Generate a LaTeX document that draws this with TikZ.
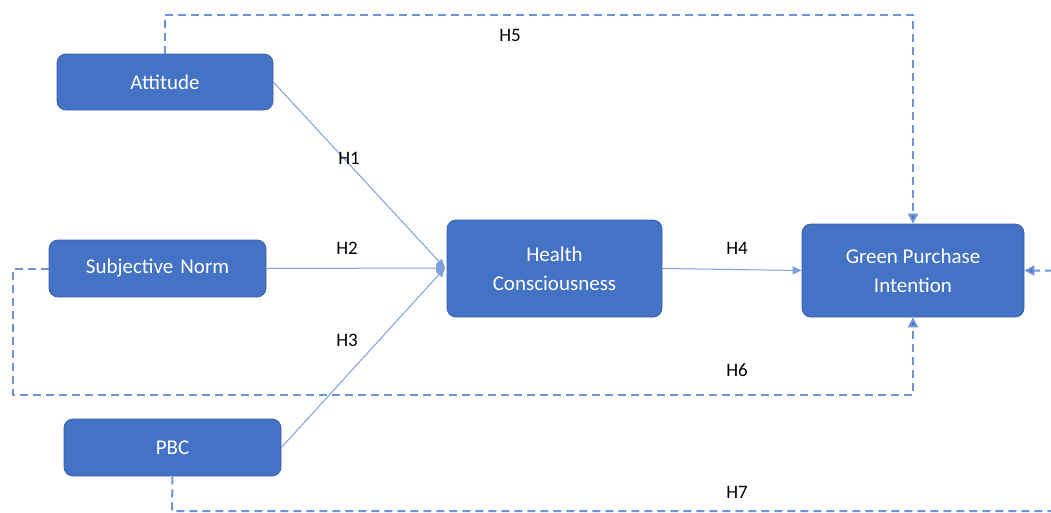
\documentclass[tikz,border=0pt]{standalone}
\usepackage{fontspec}
\setmainfont{Carlito}
\usetikzlibrary{arrows.meta}
\definecolor{boxfill}{HTML}{4472C4}
\definecolor{boxline}{HTML}{3A62AA}
\definecolor{solidline}{HTML}{7FA0DA}
\definecolor{dashline}{HTML}{6F93D6}
\begin{document}
\begin{tikzpicture}[x=1pt,y=-1pt,
  box/.style={draw=boxline, line width=0.8pt, fill=boxfill, rounded corners=9pt, text=white,
    font=\fontsize{21}{29}\selectfont, align=center, inner sep=0pt},
  link/.style={draw=solidline, line width=1pt, -{Triangle[length=9pt,width=8pt]}},
  dlink/.style={draw=dashline, line width=2pt, dash pattern=on 8pt off 5pt, -{Triangle[length=10pt,width=10pt,fill=boxfill]}},
  hl/.style={font=\fontsize{19}{22}\selectfont, text=black}]
\useasboundingbox (0,0) rectangle (1051,512);
\clip (0,0) rectangle (1051,512);
\node[box, minimum width=216pt, minimum height=56pt] (att) at (165,82) {Attitude};
\node[box, minimum width=217pt, minimum height=57pt] (sn) at (157.5,268.5) {Subjective\,\,Norm};
\node[box, minimum width=217pt, minimum height=57pt] (pbc) at (172.5,447.5) {PBC};
\node[box, minimum width=215pt, minimum height=97pt] (hc) at (554.5,268.5) {Health\\Consciousness};
\node[box, minimum width=222pt, minimum height=93pt] (gpi) at (913,270.5) {Green Purchase\\Intention};
\coordinate (hin) at (445,268);
\draw[link] (att.east) -- (hin);
\draw[link] (sn.east) -- (hin);
\draw[link] (pbc.east) -- (hin);
\draw[link] (hc.east) -- (gpi.west);
\draw[dlink] (att.north) -- (165,15) -| (gpi.north);
\draw[dlink] (sn.west) -- (13,268.5) -- (13,395) -| (gpi.south);
\draw[dlink] (pbc.south) -- (172,511) -- (1060,511) -- (1060,270.5) -- (gpi.east);
\node[hl] (h1) at (349,158) {H1};
\node[hl] (h2) at (347,248) {H2};
\node[hl] (h3) at (347,340) {H3};
\node[hl] (h4) at (737,248) {H4};
\node[hl] (h5) at (510,35) {H5};
\node[hl] (h6) at (737,370) {H6};
\node[hl] (h7) at (737,492) {H7};
\end{tikzpicture}
\end{document}
